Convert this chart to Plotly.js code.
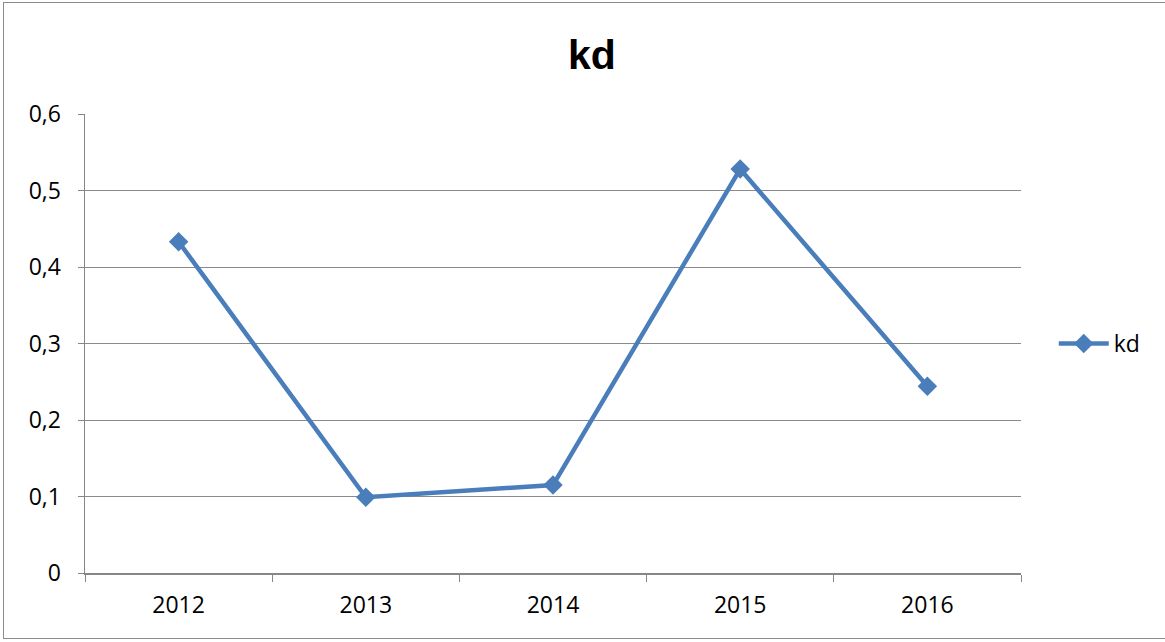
<!DOCTYPE html>
<html>
<head>
<meta charset="utf-8">
<script src="https://cdn.plot.ly/plotly-3.0.1.min.js"></script>
<style>
html,body{margin:0;padding:0;background:#fff;}
#wrap{position:relative;width:1165px;height:642px;}
#chart{position:absolute;left:0;top:0;width:1165px;height:642px;}
#frame{position:absolute;left:3px;top:2px;width:1170px;height:635px;border:1px solid #8c8c8c;pointer-events:none;}
</style>
</head>
<body>
<div id="wrap"><div id="chart"></div><div id="frame"></div></div>
<script>
const years = ['2012', '2013', '2014', '2015', '2016'];
const kd = [0.433, 0.099, 0.115, 0.528, 0.244];
const yTicks = [0, 0.1, 0.2, 0.3, 0.4, 0.5, 0.6];
const yTickLabels = ['0', '0,1', '0,2', '0,3', '0,4', '0,5', '0,6'];

const trace = {
  x: years, y: kd, name: 'kd', type: 'scatter', mode: 'lines+markers',
  line: {color: '#4A7EBB', width: 4.5},
  marker: {symbol: 'diamond', size: 15, color: '#4A7EBB'}
};
const layout = {
  width: 1165, height: 642,
  margin: {l: 85, r: 144, t: 114, b: 69},
  paper_bgcolor: '#fff', plot_bgcolor: '#fff',
  font: {family: 'Open Sans, Liberation Sans, sans-serif', size: 23, color: '#000'},
  title: {text: '<b>kd</b>', x: 0.508, xanchor: 'center', y: 0.915, yanchor: 'middle',
          font: {size: 41, family: 'Liberation Sans, Arial, sans-serif', color: '#000'}},
  xaxis: {type: 'category', range: [-0.5, 4.5], tickson: 'boundaries', ticks: 'outside', ticklen: 7,
          tickcolor: '#868686', showline: true, linecolor: '#868686', linewidth: 1.5,
          showgrid: false, tickfont: {size: 23}, ticklabelstandoff: 11, fixedrange: true},
  yaxis: {range: [0, 0.6], tickvals: yTicks, ticktext: yTickLabels, ticks: 'outside',
          ticklen: 6, tickcolor: '#868686', showline: true, linecolor: '#868686', linewidth: 1.5,
          showgrid: true, gridcolor: '#8a8a8a', gridwidth: 1, zeroline: false,
          tickfont: {size: 23}, ticklabelstandoff: 12, fixedrange: true},
  showlegend: true,
  legend: {x: 1.035, xanchor: 'left', y: 0.5, yanchor: 'middle', font: {size: 23},
           bgcolor: 'rgba(0,0,0,0)', itemwidth: 50}
};
Plotly.newPlot('chart', [trace], layout, {displayModeBar: false, staticPlot: true});
</script>
</body>
</html>
